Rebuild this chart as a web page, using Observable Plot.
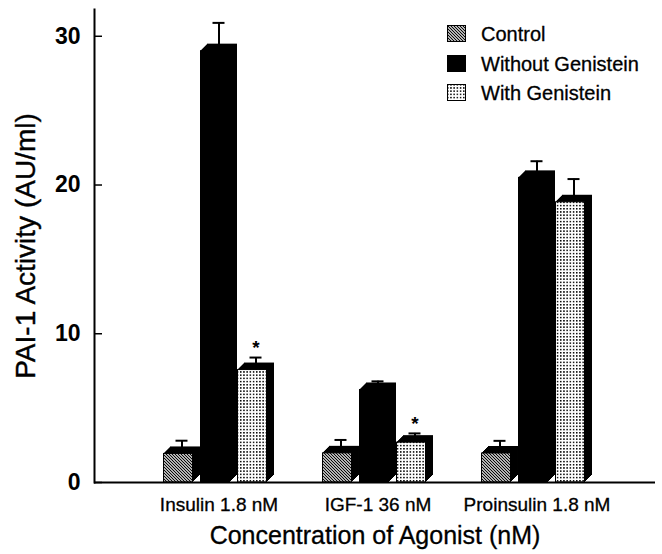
<!DOCTYPE html>
<html><head><meta charset="utf-8">
<script src="https://cdn.jsdelivr.net/npm/d3@7"></script>
<script src="https://cdn.jsdelivr.net/npm/@observablehq/plot@0.6"></script>
<style>
body{margin:0;background:#fff;}
#wrap{position:relative;width:662px;height:554px;font-family:"Liberation Sans",Arial,sans-serif;}
#defs{position:absolute;width:0;height:0;overflow:hidden;}
.lg{position:absolute;left:447px;font-size:20px;line-height:20px;color:#000;white-space:nowrap;-webkit-text-stroke:0.3px #000;}
.lg svg{position:absolute;left:0;top:1px;}
.lg span{position:absolute;left:34px;top:0;}
g[aria-label="y-axis tick label"]{font-weight:bold;}
g[aria-label="x-axis tick label"] text{stroke:#000;stroke-width:0.3px;}
</style></head><body>
<svg id="defs" width="0" height="0"><defs>
<pattern id="hatch" patternUnits="userSpaceOnUse" width="3" height="3">
<rect width="3" height="3" fill="#fff"/>
<path d="M-1,-1L4,4M-1,2L1,4M2,-1L4,1" stroke="#000" stroke-width="1.15"/>
</pattern>
<pattern id="stipple" patternUnits="userSpaceOnUse" width="3.2" height="3.2">
<rect width="3.2" height="3.2" fill="#fff"/>
<rect width="1.5" height="1.5" fill="#000"/>
</pattern>
</defs></svg>
<div id="wrap"></div>
<script>
// Categories and series
const groups = ["Insulin 1.8 nM", "IGF-1 36 nM", "Proinsulin 1.8 nM"];
const series = ["Control", "Without Genistein", "With Genistein"];
// Bar values (AU/ml), one per group
const controlValues = [1.92, 1.96, 1.95];
const withoutValues = [29.0, 6.22, 20.48];
const withValues = [7.56, 2.68, 18.84];
// Top of error bars (AU/ml)
const controlErrTop = [2.81, 2.86, 2.8];
const withoutErrTop = [30.9, 6.8, 21.6];
const withErrTop = [8.4, 3.3, 20.4];
// Significance marks for the "With Genistein" bars
const withStars = ["*", "*", ""];
const yTicks = [0, 10, 20, 30];
const xTitle = "Concentration of Agonist (nM)";
const yTitle = "PAI-1 Activity (AU/ml)";

const valueSets = [controlValues, withoutValues, withValues];
const errSets = [controlErrTop, withoutErrTop, withErrTop];
const starSets = [["", "", ""], ["", "", ""], withStars];
const fills = ["url(#hatch)", "#000", "url(#stipple)"];

const data = [];
series.forEach((s, si) => groups.forEach((g, gi) => data.push({
  group: g, series: s, value: valueSets[si][gi], err: errSets[si][gi], star: starSets[si][gi]
})));

const W = 662, H = 554, mL = 94, mR = 7, mT = 9, mB = 72;
const rangeX = [162, 592];
const padInner = 0.304;
const step = (rangeX[1] - rangeX[0]) / (groups.length - padInner);
const band = step * (1 - padInner);
const slot = band / series.length;
const depth = 7;
const cap = 12;

const marks = [];
series.forEach((s, i) => {
  const rows = data.filter(d => d.series === s);
  const iL = i * slot, iR = (series.length - 1 - i) * slot;
  for (let k = 1; k <= depth; k++) {
    marks.push(Plot.barY(rows, {x: "group", y: "value", fill: "#000", insetLeft: iL, insetRight: iR + depth, dx: k, dy: -k}));
  }
  marks.push(Plot.barY(rows, {x: "group", y: "value", fill: fills[i], stroke: "#000", strokeWidth: 1, insetLeft: iL + 0.5, insetRight: iR + depth + 0.5}));
  const off = (i - (series.length - 1) / 2) * slot;
  marks.push(Plot.ruleX(rows, {x: "group", y1: "value", y2: "err", stroke: "#000", strokeWidth: 2, dx: off}));
  marks.push(Plot.tickY(rows, {x: "group", y: "err", stroke: "#000", strokeWidth: 2, insetLeft: iL + (slot - cap) / 2, insetRight: iR + (slot - cap) / 2}));
  marks.push(Plot.text(rows.filter(d => d.star), {x: "group", y: "err", text: "star", dx: off, dy: -10, fontSize: 19, fontWeight: "bold"}));
});

marks.push(Plot.ruleY([0], {stroke: "#000", strokeWidth: 2}));
marks.push(Plot.frame({anchor: "left", stroke: "#000", strokeWidth: 2}));
marks.push(Plot.ruleY(yTicks, {y: d => d, stroke: "#000", strokeWidth: 1.5, insetRight: W - mL - mR - 8}));
marks.push(Plot.axisY({ticks: yTicks, tickSize: 0, tickPadding: 14, fontSize: 23, label: null}));
marks.push(Plot.axisX({tickSize: 0, tickPadding: 14.5, fontSize: 19, label: null}));
marks.push(Plot.text([xTitle], {frameAnchor: "bottom", dy: 61, lineAnchor: "bottom", fontSize: 25, stroke: "#000", strokeWidth: 0.3, fill: "#000"}));
marks.push(Plot.text([yTitle], {frameAnchor: "left", dx: -68, rotate: -90, textAnchor: "middle", lineAnchor: "middle", fontSize: 28, stroke: "#000", strokeWidth: 0.4, fill: "#000"}));

const chart = Plot.plot({
  width: W, height: H,
  marginLeft: mL, marginRight: mR, marginTop: mT, marginBottom: mB,
  style: {fontFamily: "'Liberation Sans', Arial, sans-serif", color: "#000", background: "#fff"},
  x: {domain: groups, range: rangeX, paddingInner: padInner, paddingOuter: 0},
  y: {domain: [0, 31.8]},
  marks
});
const wrap = document.getElementById("wrap");
wrap.appendChild(chart);

// Legend overlay
const legendFills = ["url(#hatch)", "#000", "url(#stipple)"];
const legendTops = [24, 53.5, 82.5];
series.forEach((s, i) => {
  const row = document.createElement("div");
  row.className = "lg";
  row.style.top = legendTops[i] + "px";
  row.innerHTML = `<svg width="19" height="17"><rect x="0.5" y="0.5" width="18" height="16" fill="${legendFills[i]}" stroke="#000" stroke-width="1"/></svg><span>${s}</span>`;
  wrap.appendChild(row);
});
</script>
</body></html>
